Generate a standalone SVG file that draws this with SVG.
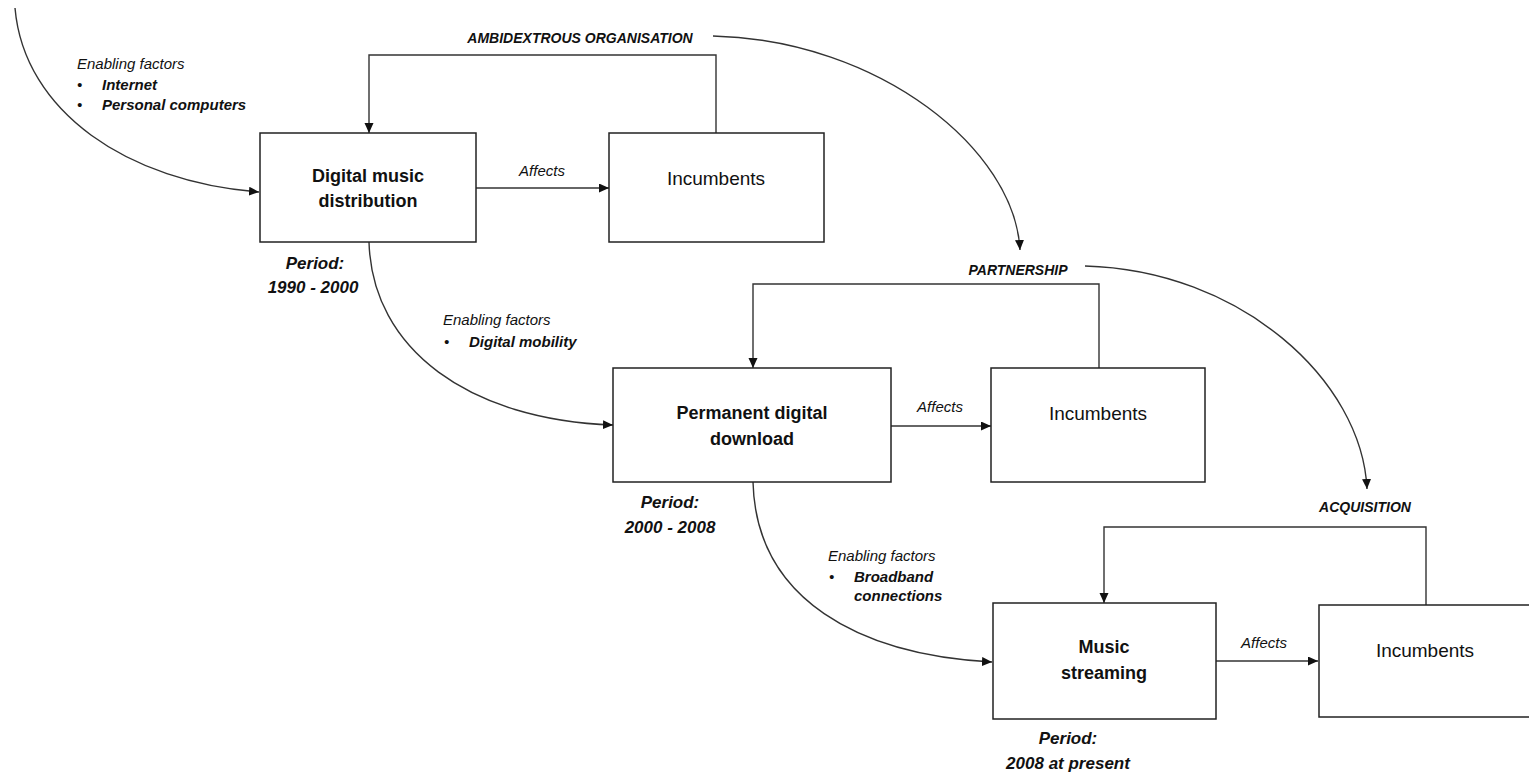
<svg xmlns="http://www.w3.org/2000/svg" width="1529" height="775" viewBox="0 0 1529 775">
<style>
text{font-family:"Liberation Sans",Arial,sans-serif;fill:#111}
.box{fill:#fff;stroke:#222;stroke-width:1.5}
.ln{fill:none;stroke:#333;stroke-width:1.4}
.t{font-size:18px;font-weight:bold;text-anchor:middle}
.inc{font-size:19px;text-anchor:middle}
.aff{font-size:15px;font-style:italic;text-anchor:middle}
.ef{font-size:15px;font-style:italic}
.efb{font-size:15px;font-style:italic;font-weight:bold}
.per{font-size:17px;font-style:italic;font-weight:bold;text-anchor:middle}
.st{font-size:14px;font-style:italic;font-weight:bold;text-anchor:middle}
</style>
<defs>
<marker id="ah" markerUnits="userSpaceOnUse" markerWidth="11" markerHeight="10" refX="10" refY="4.5" orient="auto"><path d="M0,0 L10,4.5 L0,9 z" fill="#111"/></marker>
</defs>
<g id="connectors">
<path class="ln" d="M15,8 C24,112 128,182 259,192" marker-end="url(#ah)"/>
<path class="ln" d="M369,242 C372,350 470,420 613,425" marker-end="url(#ah)"/>
<path class="ln" d="M753,482 C756,600 860,655 992,662" marker-end="url(#ah)"/>
<path class="ln" d="M476,188 H609" marker-end="url(#ah)"/>
<path class="ln" d="M891,426 H991" marker-end="url(#ah)"/>
<path class="ln" d="M1216,661 H1318" marker-end="url(#ah)"/>
<path class="ln" d="M716,133 V55 H369 V133" marker-end="url(#ah)"/>
<path class="ln" d="M1099,368 V284 H753 V368" marker-end="url(#ah)"/>
<path class="ln" d="M1426,605 V527 H1104 V603" marker-end="url(#ah)"/>
<path class="ln" d="M713,36 C880,40 1015,150 1020,250" marker-end="url(#ah)"/>
<path class="ln" d="M1085,266 C1240,270 1362,380 1367,489" marker-end="url(#ah)"/>
</g>
<g id="node-digital-music">
<rect class="box" x="260" y="133" width="216" height="109"/>
<text class="t" x="368" y="182">Digital music</text>
<text class="t" x="368" y="207">distribution</text>
</g>
<g id="node-incumbents-1">
<rect class="box" x="609" y="133" width="215" height="109"/>
<text class="inc" x="716" y="185">Incumbents</text>
</g>
<g id="node-permanent-download">
<rect class="box" x="613" y="368" width="278" height="114"/>
<text class="t" x="752" y="419">Permanent digital</text>
<text class="t" x="752" y="445">download</text>
</g>
<g id="node-incumbents-2">
<rect class="box" x="991" y="368" width="214" height="114"/>
<text class="inc" x="1098" y="420">Incumbents</text>
</g>
<g id="node-music-streaming">
<rect class="box" x="993" y="603" width="223" height="116"/>
<text class="t" x="1104" y="653">Music</text>
<text class="t" x="1104" y="679">streaming</text>
</g>
<g id="node-incumbents-3">
<rect class="box" x="1319" y="605" width="214" height="112"/>
<text class="inc" x="1425" y="657">Incumbents</text>
</g>
<g id="labels">
<text class="ef" x="77" y="69">Enabling factors</text>
<text class="ef" x="77" y="90">•</text>
<text class="efb" x="102" y="90">Internet</text>
<text class="ef" x="77" y="110">•</text>
<text class="efb" x="102" y="110">Personal computers</text>
<text class="aff" x="542" y="176">Affects</text>
<text class="aff" x="940" y="412">Affects</text>
<text class="aff" x="1264" y="648">Affects</text>
<text class="per" x="315" y="269">Period:</text>
<text class="per" x="313" y="293">1990 - 2000</text>
<text class="ef" x="443" y="325">Enabling factors</text>
<text class="ef" x="444" y="347">•</text>
<text class="efb" x="469" y="347">Digital mobility</text>
<text class="per" x="670" y="508">Period:</text>
<text class="per" x="670" y="533">2000 - 2008</text>
<text class="ef" x="828" y="561">Enabling factors</text>
<text class="ef" x="829" y="582">•</text>
<text class="efb" x="854" y="582">Broadband</text>
<text class="efb" x="854" y="601">connections</text>
<text class="per" x="1068" y="744">Period:</text>
<text class="per" x="1068" y="769">2008 at present</text>
<text class="st" x="580" y="43">AMBIDEXTROUS ORGANISATION</text>
<text class="st" x="1018" y="275">PARTNERSHIP</text>
<text class="st" x="1365" y="512">ACQUISITION</text>
</g>
</svg>
